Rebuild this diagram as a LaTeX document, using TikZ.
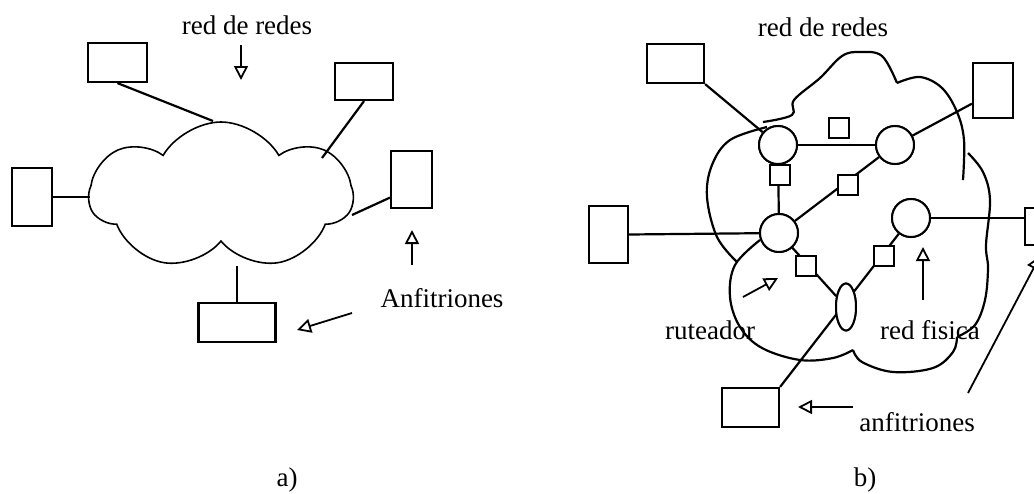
\documentclass[tikz,border=0pt]{standalone}
\usepackage{fontspec}
\setmainfont{Liberation Serif}
\usetikzlibrary{arrows.meta, shapes.geometric, shapes.symbols}

\tikzset{
  anfitrion/.style={draw, line width=1.1pt, inner sep=0pt, fill=white},
  ruteador/.style={draw, circle, line width=1pt, minimum size=19pt, inner sep=0pt, fill=white},
  redfis/.style={draw, line width=0.9pt, minimum size=10pt, inner sep=0pt, fill=white},
  hueco/.style={line width=0.9pt, -{Triangle[open, length=7pt, width=7pt]}},
  etiq/.style={font=\fontsize{13.5}{16}\selectfont},
}

\begin{document}
\begin{tikzpicture}[x=0.5pt, y=-0.5pt, line width=1.1pt]
\useasboundingbox (0,0) rectangle (1034,493);

% a) la red de redes vista por los anfitriones
\node[cloud, draw, line width=0.8pt, cloud puffs=7, cloud puff arc=120, aspect=1.8,
      minimum width=131.5pt, minimum height=74pt] (nube) at (221,196) {};
\node[anfitrion, minimum width=29.5pt, minimum height=19.5pt] (aTL) at (117.5,62.5) {};
\node[anfitrion, minimum width=29pt, minimum height=18.5pt] (aTR) at (364,81.5) {};
\node[anfitrion, minimum width=20pt, minimum height=29pt] (aL) at (32,197) {};
\node[anfitrion, minimum width=20.5pt, minimum height=28.5pt] (aR) at (411.5,179.5) {};
\node[anfitrion, minimum width=38.5pt, minimum height=19.5pt] (aB) at (237,322.5) {};

\coordinate (nTL) at (213,121);
\coordinate (nTR) at (322,158);
\coordinate (nL) at (90,197);
\coordinate (nR) at (352,215);
\coordinate (nB) at (237,266);
\draw (aTL.south) -- (nTL);
\draw (aTR.south) -- (nTR);
\draw (aL.east) -- (nL);
\draw (aR.220) -- (nR);
\draw (aB.north) -- (nB);

\node[etiq] (tRedA) at (247,25) {red de redes};
\node[etiq] (tAnfA) at (442,298) {Anfitriones};
\node[etiq] (tA) at (287,480) {a)};
\coordinate (fA1) at (241,80);
\coordinate (fA2) at (412,230);
\coordinate (fA3) at (297,330);
\draw[hueco] (241,45) -- (fA1);
\draw[hueco] (412,265) -- (fA2);
\draw[hueco] (352,313) -- (fA3);

% b) estructura interna: redes fisicas y ruteadores
\draw plot[smooth, tension=0.6] coordinates {(763,122) (792,115) (794,100) (820,78) (842,56) (860,52) (882,56) (897,83)};
\draw plot[smooth, tension=0.6] coordinates {(897,83) (920,77) (942,88) (957,112) (964,140) (963,180)};
\draw plot[smooth, tension=0.6] coordinates {(767,127) (730,140) (712,165) (707,197) (717,237) (737,262)};
\draw plot[smooth, tension=0.6] coordinates {(760,240) (735,265) (730,297) (740,327) (762,348) (800,360) (833,358) (853,350)};
\draw plot[smooth, tension=0.6] coordinates {(853,350) (862,362) (893,372) (933,368) (953,352) (957,337)};
\draw plot[smooth, tension=0.6] coordinates {(968,153) (983,172) (990,200) (986,245) (988,268) (985,300) (975,325) (957,337)};

\node[anfitrion, minimum width=28.5pt, minimum height=19.5pt] (bTL) at (675.5,63.5) {};
\node[anfitrion, minimum width=20pt, minimum height=27.5pt] (bTR) at (993,90.5) {};
\node[anfitrion, minimum width=19.5pt, minimum height=28.5pt] (bL) at (608.5,234.5) {};
\node[anfitrion, minimum width=20pt, minimum height=18.5pt] (bR) at (1045,226.5) {};
\node[anfitrion, minimum width=28.5pt, minimum height=19.5pt] (bB) at (750.5,407.5) {};

\node[ruteador] (rt1) at (778,145) {};
\node[ruteador] (rt2) at (895,145) {};
\node[ruteador] (rt3) at (779,233) {};
\node[ruteador] (rt4) at (911,218) {};
\node[draw, ellipse, line width=1pt, minimum width=10pt, minimum height=23.5pt, inner sep=0pt] (enl) at (846,307) {};

\draw (rt1) -- (rt2);
\draw (rt1) -- (rt3);
\draw (rt3) -- (rt2);
\draw (rt3) -- (enl);
\draw (rt4) -- (bB.north east);
\draw (bTL.south east) -- (rt1);
\draw (bTR.212) -- (rt2);
\draw (bL.east) -- (rt3);
\draw (rt4) -- (rt4 -| bR.west);

\node[ruteador] at (rt1) {};
\node[ruteador] at (rt2) {};
\node[ruteador] at (rt3) {};
\node[ruteador] at (rt4) {};
\node[draw, ellipse, line width=1pt, minimum width=10pt, minimum height=23.5pt, inner sep=0pt, fill=white] at (enl) {};

\node[redfis] (n1) at (839,128) {};
\node[redfis] (n2) at (780,175) {};
\node[redfis] (n3) at (848,185) {};
\node[redfis] (n4) at (806,266) {};
\node[redfis] (n5) at (884,256) {};

\node[etiq] (tRedB) at (823,27) {red de redes};
\node[etiq] (tRut) at (710,330) {ruteador};
\node[etiq] (tFis) at (930,330) {red fisica};
\node[etiq] (tAnfB) at (917,422) {anfitriones};
\node[etiq] (tB) at (865,480) {b)};
\coordinate (fB1) at (778,278);
\coordinate (fB2) at (923,247);
\coordinate (fB3) at (798,407);
\coordinate (fB4) at (1040,256);
\draw[hueco] (743,297) -- (fB1);
\draw[hueco] (923,300) -- (fB2);
\draw[hueco] (853,407) -- (fB3);
\draw[hueco] (968,393) -- (fB4);
\end{tikzpicture}
\end{document}
